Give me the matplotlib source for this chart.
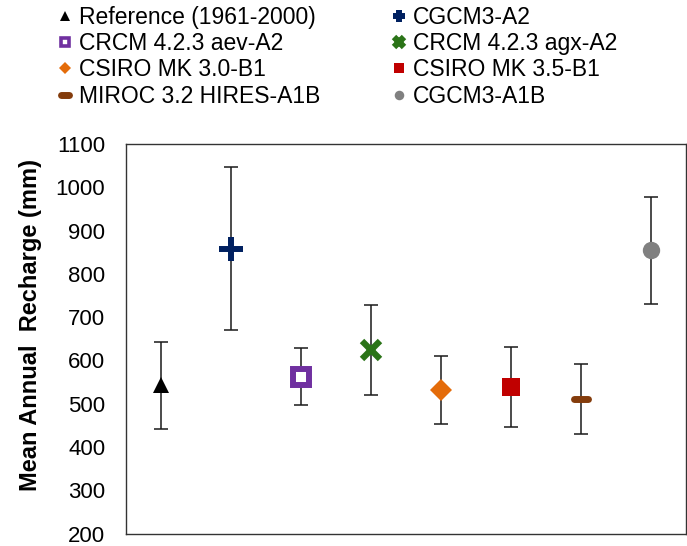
import matplotlib
matplotlib.use("Agg")
import matplotlib.pyplot as plt
from matplotlib.markers import MarkerStyle

plt.rcParams['font.family'] = ['Liberation Sans', 'DejaVu Sans']

labels = ["Reference (1961-2000)", "CGCM3-A2", "CRCM 4.2.3 aev-A2", "CRCM 4.2.3 agx-A2",
          "CSIRO MK 3.0-B1", "CSIRO MK 3.5-B1", "MIROC 3.2 HIRES-A1B", "CGCM3-A1B"]
means = [542, 858, 562, 624, 531, 539, 511, 854]
errors = [100, 188, 66, 105, 79, 92, 80, 123]
yticks = [200, 300, 400, 500, 600, 700, 800, 900, 1000, 1100]

colors = ["#000000", "#002060", "#7030A0", "#2B7418", "#E46C0A", "#C00000", "#843C0C", "#808080"]

W, H = 687, 546
fig = plt.figure(figsize=(W / 100, H / 100), dpi=100)
ax_bottom_px = 533.5
ax_top_px = 144
ax = fig.add_axes([126 / W, (H - ax_bottom_px) / H, 559.7 / W, (ax_bottom_px - ax_top_px) / H])

xs = list(range(len(labels)))

# error bars
ax.errorbar(xs, means, yerr=errors, fmt='none', ecolor='#1a1a1a', elinewidth=1.1,
            capsize=4.8, capthick=1.1, zorder=2)

styles = [
    dict(marker='^', ms=12, mfc=colors[0], mec=colors[0], mew=0),
    dict(marker='+', ms=17, mfc=colors[1], mec=colors[1], mew=4.3),
    dict(marker='s', ms=11.5, mfc='white', mec=colors[2], mew=4.3),
    dict(marker='x', ms=13, mfc=colors[3], mec=colors[3], mew=4.5),
    dict(marker='D', ms=11.7, mfc=colors[4], mec=colors[4], mew=0),
    dict(marker='s', ms=12.8, mfc=colors[5], mec=colors[5], mew=0),
    dict(marker=MarkerStyle('_', capstyle='round'), ms=10, mfc=colors[6], mec=colors[6], mew=5),
    dict(marker='o', ms=12.5, mfc=colors[7], mec=colors[7], mew=0),
]

handles = []
for x, m, lab, st in zip(xs, means, labels, styles):
    h, = ax.plot([x], [m], linestyle='none', label=lab, zorder=3, **st)
    handles.append(h)

ax.set_xlim(-0.5, 7.5)
ax.set_ylim(200, 1100)
ax.set_yticks(yticks)
ax.set_xticks([])
ax.tick_params(axis='y', length=0, pad=15, labelsize=16)
for s in ax.spines.values():
    s.set_color('#333333')
    s.set_linewidth(1.0)

ax.set_ylabel("Mean Annual  Recharge (mm)", fontsize=17, fontweight='bold', va='center')
ax.yaxis.set_label_coords((30 - 126) / 559.7, (ax_bottom_px - 325) / (ax_bottom_px - ax_top_px))

order = [0, 2, 4, 6, 1, 3, 5, 7]
leg = fig.legend([handles[i] for i in order], [labels[i] for i in order],
                 loc='upper left', bbox_to_anchor=(58 / W, 1 - 6 / H), ncol=2,
                 frameon=False, fontsize=16.5, markerscale=0.55, handlelength=0.6,
                 handletextpad=0.3, columnspacing=3.15, labelspacing=0.14,
                 borderpad=0, borderaxespad=0)
# legend square marker: thinner outline so the white centre shows
leg.legend_handles[1].set_markeredgewidth(2.6)

fig.savefig("out.png", dpi=100)
